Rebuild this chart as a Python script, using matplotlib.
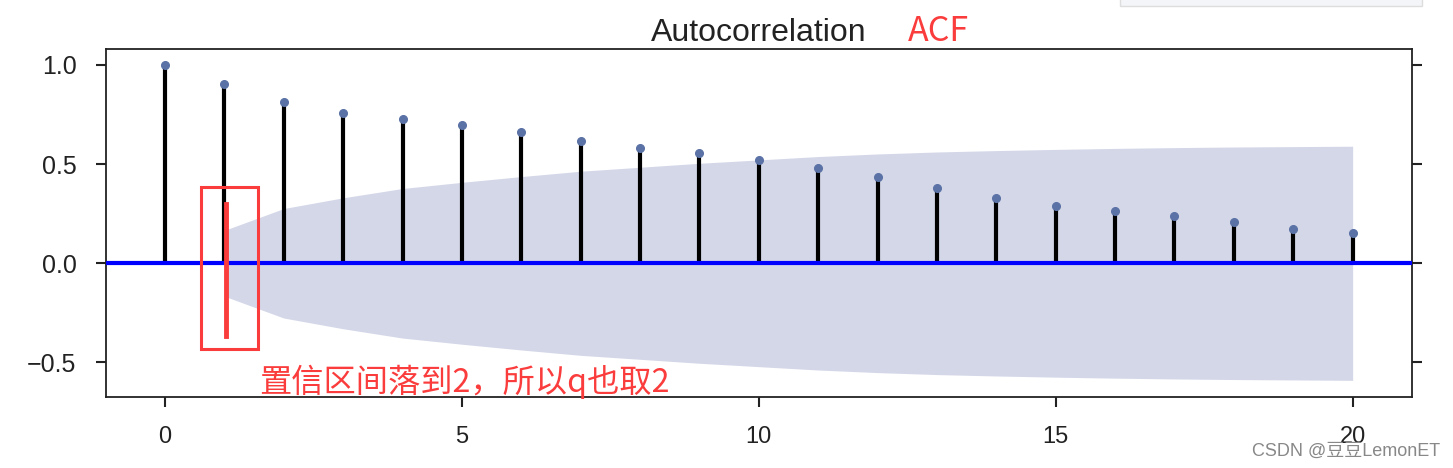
import matplotlib
matplotlib.use('Agg')
import matplotlib.pyplot as plt
from matplotlib.patches import Rectangle

plt.rcParams['font.family'] = ['Liberation Sans', 'DejaVu Sans']

lags = list(range(21))
acf_values = [1.0, 0.905, 0.815, 0.758, 0.729, 0.698, 0.663, 0.614, 0.583, 0.558,
              0.519, 0.482, 0.437, 0.377, 0.331, 0.291, 0.265, 0.240, 0.206, 0.174, 0.155]
band_lags = list(range(1, 21))
band_upper = [0.166, 0.276, 0.330, 0.377, 0.408, 0.437, 0.464, 0.484, 0.504, 0.521,
              0.538, 0.551, 0.561, 0.568, 0.574, 0.579, 0.583, 0.586, 0.588, 0.590]
band_lower = [-v for v in band_upper]

x_ticks = [0, 5, 10, 15, 20]
y_ticks = [-0.5, 0.0, 0.5, 1.0]
red = '#fa3c3c'
cjk = ['Noto Sans CJK SC', 'DejaVu Sans']


def main():
    fig = plt.figure(figsize=(14.53, 4.68), dpi=100)
    ax = fig.add_axes([0.0727, 0.1517, 0.8991, 0.7436])

    ax.fill_between(band_lags, band_lower, band_upper, color='#d4d7e8', lw=0, zorder=1)
    ax.axhline(0, color='#0000ff', lw=3, zorder=3)
    ax.vlines(lags, 0, acf_values, color='black', lw=3, zorder=2)
    ax.plot(lags, acf_values, 'o', color='#5b72a6', ms=5.5, zorder=4)

    ax.set_xlim(-1, 21)
    ax.set_ylim(-0.674, 1.08)
    ax.set_xticks(x_ticks)
    ax.set_yticks(y_ticks)
    ax.set_yticklabels(['{:.1f}'.format(v).replace('-', '\u2212') for v in y_ticks])
    ax.tick_params(axis='both', direction='out', length=7, width=1.5, color='#222222',
                   labelsize=18, labelcolor='#222222')
    ax.tick_params(axis='y', right=True, pad=14)
    ax.tick_params(axis='x', labelsize=17, pad=14)
    for sp in ax.spines.values():
        sp.set_linewidth(1.3)
        sp.set_color('#222222')

    ax.set_title('Autocorrelation', fontsize=23, color='#222222', pad=6)

    # hand-drawn annotations in red
    fig.text(0.625, 0.913, 'ACF', color=red, fontsize=24.5, family=cjk)
    ax.add_patch(Rectangle((0.60, -0.432), 0.967, 0.816, fill=False,
                           ec=red, lw=2.2, zorder=6))
    ax.plot([1.027, 1.027], [0.299, -0.366], color=red, lw=3.5, zorder=6)
    fig.text(0.178, 0.163, '置信区间落到2，所以q也取2', color=red, fontsize=23.2, family=cjk)

    fig.text(0.862, 0.025, 'CSDN @豆豆LemonET', color='#888888', fontsize=13,
             family=['Liberation Sans', 'Noto Sans CJK SC'])
    fig.patches.append(Rectangle((0.771, 0.988), 0.208, 0.02, transform=fig.transFigure,
                                 fill=True, fc='#f4f5f8', ec='#dddddd', lw=1))

    fig.savefig('out.png', dpi=100)


if __name__ == '__main__':
    main()
